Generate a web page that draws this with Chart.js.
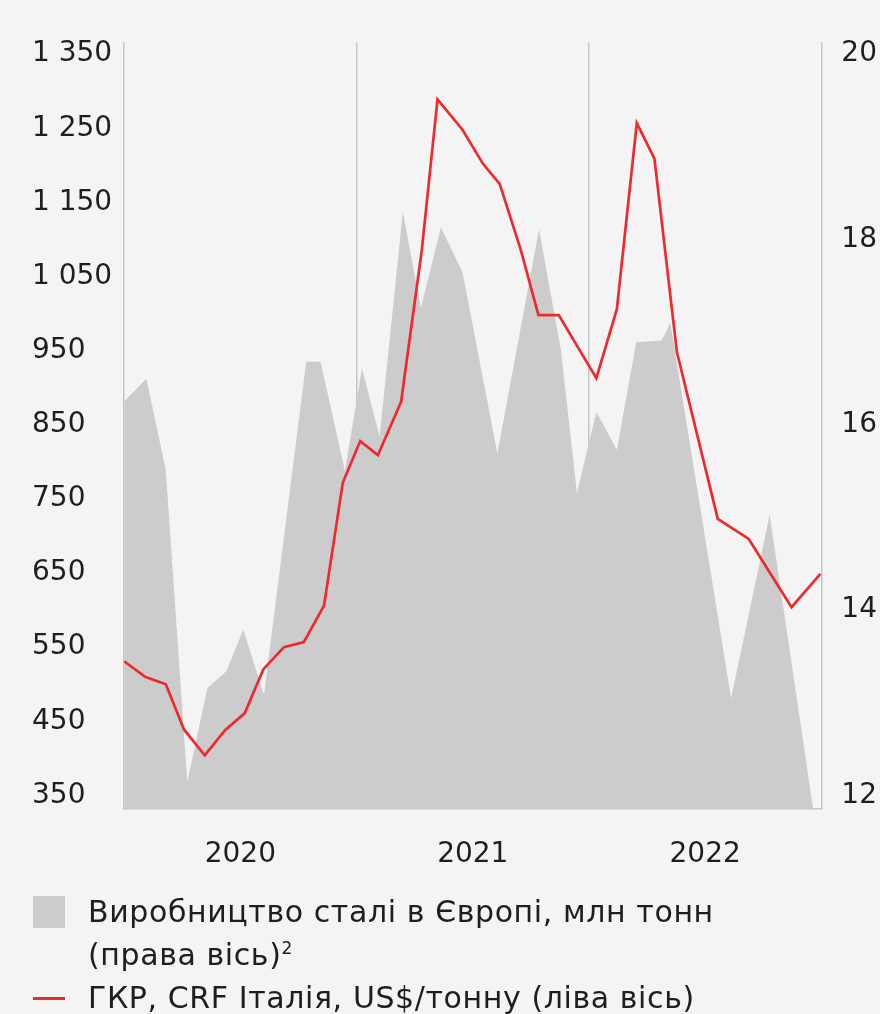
<!DOCTYPE html>
<html lang="uk">
<head>
<meta charset="utf-8">
<title>Виробництво сталі та ціни ГКР</title>
<script src="https://cdn.jsdelivr.net/npm/chart.js@4.4.1/dist/chart.umd.min.js"></script>
<style>
  html, body { margin: 0; padding: 0; background: #f4f4f4; }
  body { width: 880px; height: 1014px; position: relative; overflow: hidden;
         font-family: "DejaVu Sans", sans-serif; color: #1e1e1e; }
  #wrap { position: absolute; left: 0; top: 0; width: 880px; height: 902px; }
  .legend { position: absolute; left: 0; font-size: 30px; line-height: 43px; letter-spacing: 0.6px; }
  .legend .txt { position: absolute; left: 88px; white-space: nowrap; }
  .legend sup { font-size: 17px; line-height: 0; vertical-align: 11px; }
  .swatch { position: absolute; left: 33px; }
</style>
</head>
<body>
<div id="wrap"><canvas id="chart" width="880" height="902"></canvas></div>

<div class="legend" style="top:890px">
  <div class="swatch" style="top:6px;width:32px;height:32px;background:#cccccc"></div>
  <div class="txt" style="top:0">Виробництво сталі в Європі, млн тонн<br>(права вісь)<sup>2</sup></div>
</div>
<div class="legend" style="top:976px">
  <div class="swatch" style="top:21px;width:32px;height:3px;background:#ee2a2f"></div>
  <div class="txt" style="top:0">ГКР, CRF Італія, US$/тонну (ліва вісь)</div>
</div>

<script>
// ─── Data (x = months since Jan 2020) ─────────────────────────────────────────

const yearLabels = ["2020", "2021", "2022"];

const priceMonths = [0, 1.08, 2.15, 3.09, 4.16, 5.21, 6.23, 7.18, 8.25, 9.28, 10.32, 11.29,
  12.19, 13.1, 14.3, 15.37, 16.18, 17.47, 18.53, 19.39, 20.48, 21.39, 22.44, 24.38,
  25.44, 26.47, 27.38, 28.54, 30.65, 32.25, 34.46, 35.95];
const priceValues = [531, 510, 500, 439, 404, 438, 461, 520, 550, 557, 606, 772,
  828, 809, 881, 1086, 1289, 1248, 1202, 1175, 1086, 998, 998, 913,
  1006, 1257, 1209, 948, 723, 696, 604, 649];

const steelMonths = [0, 1.15, 2.15, 3.26, 4.3, 5.28, 6.15, 7.22, 9.4, 10.14, 11.4,
  12.28, 13.19, 14.39, 15.32, 16.35, 17.47, 19.27, 21.42, 22.55, 23.38, 24.38,
  25.44, 26.44, 27.76, 28.2, 31.34, 33.33, 35.57];
const steelValues = [16.25, 16.5, 15.51, 12.15, 13.16, 13.34, 13.79, 13.09, 16.68, 16.68, 15.5,
  16.61, 15.87, 18.3, 17.26, 18.13, 17.65, 15.69, 18.11, 16.81, 15.26, 16.14,
  15.73, 16.89, 16.91, 17.1, 13.05, 15.03, 11.86];

const priceTicks = [350, 450, 550, 650, 750, 850, 950, 1050, 1150, 1250, 1350];
const steelTicks = [12, 14, 16, 18, 20];

// ─── Helpers ──────────────────────────────────────────────────────────────────

const AXIS_GREY = "#c6c6c6";
const FONT = { family: "'DejaVu Sans', sans-serif", size: 28 };

function fmtThousands(v) {
  if (v < 1000) return String(v);
  return Math.floor(v / 1000) + " " + String(v % 1000).padStart(3, "0");
}

function zip(xs, ys) {
  return xs.map((x, i) => ({ x, y: ys[i] }));
}

// ─── Chart ────────────────────────────────────────────────────────────────────

new Chart(document.getElementById("chart"), {
  type: "line",
  data: {
    datasets: [
      {
        label: "ГКР, CRF Італія, US$/тонну (ліва вісь)",
        data: zip(priceMonths, priceValues),
        yAxisID: "yPrice",
        borderColor: "#ee2a2f",
        borderWidth: 2.7,
        pointRadius: 0,
        fill: false,
        order: 0,
      },
      {
        label: "Виробництво сталі в Європі, млн тонн (права вісь)",
        data: zip(steelMonths, steelValues),
        yAxisID: "ySteel",
        borderWidth: 0,
        backgroundColor: "#cccccc",
        pointRadius: 0,
        fill: "start",
        order: 1,
      },
    ],
  },
  options: {
    responsive: false,
    animation: false,
    events: [],
    layout: { padding: { left: 32, right: 3, top: 43, bottom: 0 } },
    plugins: { legend: { display: false }, tooltip: { enabled: false } },
    scales: {
      x: {
        type: "linear",
        min: 0,
        max: 36,
        z: 1,
        afterBuildTicks: (s) => {
          s.ticks = [0, 6, 12, 18, 24, 30, 36].map((v) => ({ value: v }));
        },
        ticks: {
          autoSkip: false,
          maxRotation: 0,
          padding: 30,
          color: "#1e1e1e",
          font: FONT,
          callback: (v) => (v % 12 === 6 ? yearLabels[(v - 6) / 12] : ""),
        },
        grid: {
          drawTicks: false,
          lineWidth: 1.5,
          color: (c) =>
            c.tick && (c.tick.value === 12 || c.tick.value === 24) ? AXIS_GREY : "rgba(0,0,0,0)",
        },
        border: { display: true, color: AXIS_GREY, width: 1.5 },
      },
      yPrice: {
        type: "linear",
        position: "left",
        min: 332.5,
        max: 1365,
        afterBuildTicks: (s) => {
          s.ticks = priceTicks.map((v) => ({ value: v }));
        },
        ticks: {
          crossAlign: "far",
          padding: 6,
          color: "#1e1e1e",
          font: FONT,
          callback: (v) => fmtThousands(v),
        },
        grid: { display: false, drawTicks: false },
        border: { display: true, color: AXIS_GREY, width: 1.5 },
      },
      ySteel: {
        type: "linear",
        position: "right",
        min: 11.86,
        max: 20.12,
        afterBuildTicks: (s) => {
          s.ticks = steelTicks.map((v) => ({ value: v }));
        },
        ticks: {
          crossAlign: "far",
          padding: 10,
          color: "#1e1e1e",
          font: FONT,
        },
        grid: { display: false, drawTicks: false },
        border: { display: true, color: AXIS_GREY, width: 1.5 },
      },
    },
  },
});
</script>
</body>
</html>
